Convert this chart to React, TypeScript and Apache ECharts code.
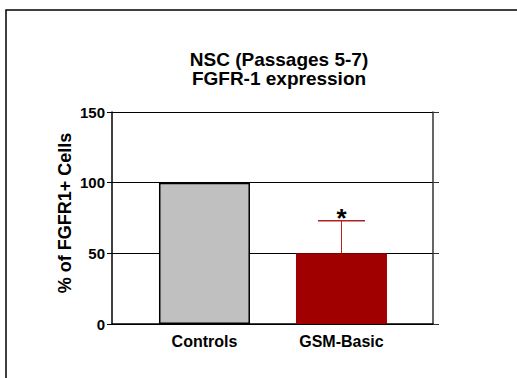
import React, { useEffect, useRef } from "react";
import * as echarts from "echarts";

const categories = ["Controls", "GSM-Basic"];
const values = [100, 50];
const errorTops = [null, 73];
const significance = ["", "*"];
const barColors = ["#c0c0c0", "#a00000"];
const yTicks = [0, 50, 100, 150];

const FONT = "'Liberation Sans', Arial, sans-serif";

export default function App() {
  const ref = useRef<HTMLDivElement>(null);
  useEffect(() => {
    document.body.style.margin = "0";
    const chart = echarts.init(ref.current!, null, { renderer: "svg" });
    const positions = categories.map((_, i) => i + 1);
    chart.setOption({
      animation: false,
      backgroundColor: "#fff",
      title: {
        text: "NSC (Passages 5-7)\nFGFR-1 expression",
        left: 274,
        textAlign: "center",
        top: 45,
        textStyle: { fontFamily: FONT, fontSize: 19, fontWeight: "bold", color: "#000", lineHeight: 19 },
      },
      graphic: [
        {
          type: "rect",
          shape: { x: 6, y: 10, width: 600, height: 500 },
          style: { fill: "none", stroke: "#000", lineWidth: 1.5 },
          silent: true,
        },
        {
          type: "text",
          x: 65,
          y: 213,
          rotation: Math.PI / 2,
          style: {
            text: "% of FGFR1+ Cells",
            align: "center",
            verticalAlign: "middle",
            fontFamily: FONT,
            fontSize: 18,
            fontWeight: "bold",
            fill: "#000",
          },
          silent: true,
        },
      ],
      grid: { left: 112, top: 112, width: 321, height: 212, containLabel: false },
      xAxis: {
        type: "value",
        min: 0.325,
        max: 2.668,
        axisLine: { show: true, onZero: false, lineStyle: { color: "#000", width: 1.5 } },
        axisTick: { show: false },
        splitLine: { show: false },
        axisLabel: {
          customValues: positions,
          formatter: (v: number) => categories[Math.round(v) - 1] ?? "",
          fontFamily: FONT,
          fontSize: 16,
          fontWeight: "bold",
          color: "#000",
          margin: 9,
        },
      },
      yAxis: [
        {
          type: "value",
          min: 0,
          max: 150,
          interval: 50,
          axisLine: { show: true, lineStyle: { color: "#000", width: 1.5 } },
          axisTick: { show: true, length: 5, lineStyle: { color: "#000" } },
          axisLabel: {
            customValues: yTicks,
            fontFamily: FONT,
            fontSize: 15,
            fontWeight: "bold",
            color: "#000",
            margin: 7,
          },
          splitLine: { show: true, lineStyle: { color: "#000", width: 1.2 } },
        },
        {
          type: "value",
          position: "right",
          min: 0,
          max: 150,
          interval: 50,
          axisLine: { show: true, lineStyle: { color: "#333", width: 1.5 } },
          axisTick: { show: true, length: 6, lineStyle: { color: "#333" } },
          axisLabel: { show: false },
          splitLine: { show: false },
        },
      ],
      series: [
        {
          type: "bar",
          barWidth: 91,
          data: values.map((v, i) => ({
            value: [positions[i], v],
            itemStyle: {
              color: barColors[i],
              borderColor: i === 0 ? "#000" : barColors[i],
              borderWidth: i === 0 ? 1.5 : 0,
            },
          })),
          z: 3,
        },
        {
          type: "custom",
          z: 4,
          data: errorTops
            .map((t, i) => (t == null ? null : [positions[i], values[i], t, i]))
            .filter((d) => d != null),
          renderItem: (params: any, api: any) => {
            const x = api.value(0);
            const base = api.coord([x, api.value(1)]);
            const top = api.coord([x, api.value(2)]);
            const idx = api.value(3);
            const half = 23.5;
            const stroke = "#b02020";
            return {
              type: "group",
              children: [
                { type: "line", shape: { x1: top[0], y1: base[1], x2: top[0], y2: top[1] }, style: { stroke, lineWidth: 1 } },
                { type: "line", shape: { x1: top[0] - half, y1: top[1], x2: top[0] + half, y2: top[1] }, style: { stroke, lineWidth: 1.5 } },
                {
                  type: "text",
                  style: {
                    text: significance[idx],
                    x: top[0],
                    y: top[1] - 3,
                    align: "center",
                    verticalAlign: "middle",
                    fontFamily: FONT,
                    fontSize: 26,
                    fontWeight: "bold",
                    fill: "#000",
                  },
                },
              ],
            };
          },
        },
      ],
    });
    return () => chart.dispose();
  }, []);
  return <div ref={ref} style={{ width: 517, height: 378 }} />;
}
